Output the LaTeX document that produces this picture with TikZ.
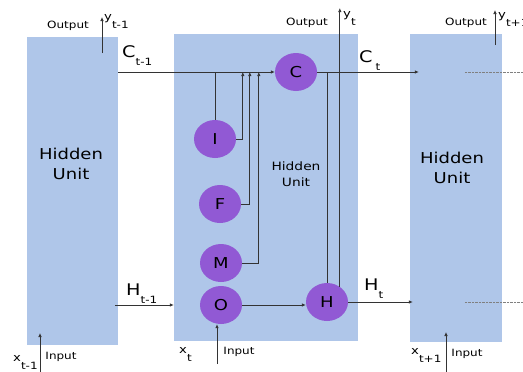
\documentclass[tikz,border=0pt]{standalone}
\usepackage{fontspec}
\setmainfont{DejaVu Sans}[FakeStretch=1.2]
\usepackage{xcolor}
\usetikzlibrary{arrows.meta,shapes.geometric}
\definecolor{unitblue}{RGB}{175,198,233}
\definecolor{gatepurple}{RGB}{145,89,212}
\newcommand{\idx}[2]{#1\raisebox{-8.5pt}{\fontsize{10}{10}\selectfont #2}}

\begin{document}
\begin{tikzpicture}[x=1pt, y=-1pt, every node/.style={inner sep=0pt}, unit/.style={fill=unitblue}, gate/.style={ellipse, fill=gatepurple, minimum width=42pt, minimum height=38pt, font=\fontsize{15}{15}\selectfont}, bigtxt/.style={align=center, font=\fontsize{15}{20}\selectfont}, smalltxt/.style={align=center, font=\fontsize{11.5}{16.5}\selectfont}, io/.style={font=\fontsize{10}{10}\selectfont, anchor=base}, lab/.style={font=\fontsize{16}{16}\selectfont, anchor=base west}, var/.style={font=\fontsize{11}{11}\selectfont, anchor=base west}, arr/.style={-{Latex[length=4pt,width=3.5pt]}}, line/.style={draw=black!80, line width=0.7pt}]
\useasboundingbox (0,0) rectangle (523,372);
\node[unit, minimum width=91pt, minimum height=308pt] (prev) at (72.5,191) {};
\node[unit, minimum width=184pt, minimum height=307pt] (cur) at (266,187.5) {};
\node[unit, minimum width=92pt, minimum height=308pt] (next) at (456,188) {};
\node[bigtxt] (prevtxt) at (71,164) {Hidden\\Unit};
\node[smalltxt] (curtxt) at (296,174) {Hidden\\Unit};
\node[bigtxt] (nexttxt) at (452,168) {Hidden\\Unit};
\node[gate] (C) at (296,72) {C};
\node[gate] (I) at (215,139) {I};
\node[gate] (F) at (220,204) {F};
\node[gate] (M) at (221,263) {M};
\node[gate] (O) at (221,305) {O};
\node[gate] (H) at (327,302) {H};
\coordinate (ytop) at (341,8);
\coordinate (outprev) at (102,53);
\coordinate (outnext) at (495,45);
\coordinate (inprev) at (40,372);
\coordinate (incur) at (217,364);
\coordinate (innext) at (446,372);
\draw[line, arr] (prev.east |- C.west) -- (C.west);
\draw[line] (I.north) -- (I.north |- C.west);
\draw[line, arr] (I.east) -| ([xshift=-32pt]C.west);
\draw[line, arr] (F.east) -| ([xshift=-25pt]C.west);
\draw[line, arr] (M.east) -| ([xshift=-16pt]C.west);
\draw[line, arr] (C.east) -- ([xshift=9pt]next.west |- C.east);
\draw[line] (H.north |- C.east) -- (H.north);
\draw[line, arr] (H.50) -- (H.50 |- ytop);
\draw[line, arr] (O.east) -- (O.east -| H.west);
\draw[line, arr] (H.east) -- ([xshift=3pt]next.west |- H.east);
\draw[line, arr] ([xshift=-3pt]prev.east |- O.east) -- (cur.west |- O.east);
\draw[line, arr] (outprev) -- ++(0,-36);
\draw[line, arr] (outnext) -- ++(0,-35);
\draw[line, arr] (inprev) -- ++(0,-39);
\draw[line, arr] (incur) -- (incur |- O.south);
\draw[line, arr] (innext) -- ++(0,-40);
\draw[densely dotted, gray] ([xshift=55pt]next.west |- C.east) -- ++(58,0);
\draw[densely dotted, gray] ([xshift=55pt]next.west |- H.east) -- ++(58,0);
\node[lab] (cprevlab) at (122,57) {\idx{C}{t-1}};
\node[lab] (cnextlab) at (359,62) {\idx{C\kern3pt}{t}};
\node[lab] (hprevlab) at (126,295) {\idx{H}{t-1}};
\node[lab] (hnextlab) at (364,290) {\idx{H}{t}};
\node[io] (outprevtxt) at (68,28) {Output};
\node[io] (outcurtxt) at (307,25) {Output};
\node[io] (outnexttxt) at (466,26) {Output};
\node[io] (inprevtxt) at (61,359) {Input};
\node[io] (incurtxt) at (239,354) {Input};
\node[io] (innexttxt) at (467,356) {Input};
\node[var] (yprev) at (104,20) {\idx{y}{t-1}};
\node[var] (ycur) at (343,17) {\idx{y}{t}};
\node[var] (ynext) at (498,18) {\idx{y}{t+1}};
\node[var] (xprev) at (13,361) {\idx{x}{t-1}};
\node[var] (xcur) at (179,353) {\idx{x}{t}};
\node[var] (xnext) at (411,354) {\idx{x}{t+1}};
\end{tikzpicture}
\end{document}
